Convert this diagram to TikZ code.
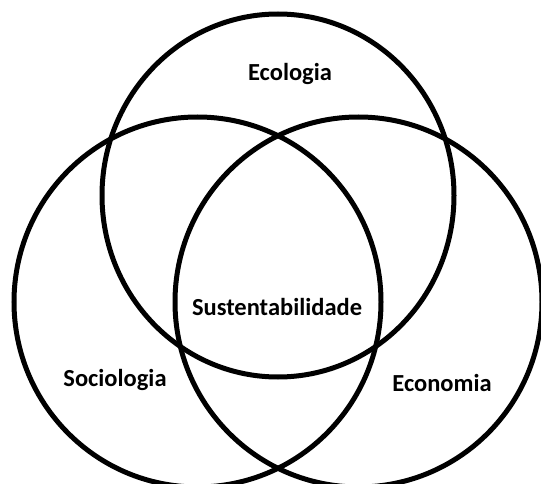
\documentclass[tikz,border=0pt]{standalone}
\usepackage{fontspec}
\setmainfont{Carlito}
\usetikzlibrary{shapes.geometric}
\begin{document}
\begin{tikzpicture}[x=1pt,y=-1pt,
  ring/.style={draw=black,line width=5pt,ellipse,inner sep=0pt},
  lbl/.style={font=\fontsize{24.5}{28}\selectfont\bfseries,text=black,inner sep=0pt}]
\useasboundingbox (0,0) rectangle (541,484);
\clip (0,0) rectangle (541,484);
% the three overlapping fields
\node[ring,minimum width=352pt,minimum height=363pt] (eco) at (278,195.5) {};
\node[ring,minimum width=367pt,minimum height=370pt] (soc) at (197.5,302) {};
\node[ring,minimum width=367pt,minimum height=370pt] (ecn) at (358.5,302) {};
% labels
\node[lbl] (tEco) at (290,74) {Ecologia};
\node[lbl] (tSus) at (277,307) {Sustentabilidade};
\node[lbl] (tSoc) at (115,380) {Sociologia};
\node[lbl] (tEcn) at (442,383) {Economia};
\end{tikzpicture}
\end{document}
